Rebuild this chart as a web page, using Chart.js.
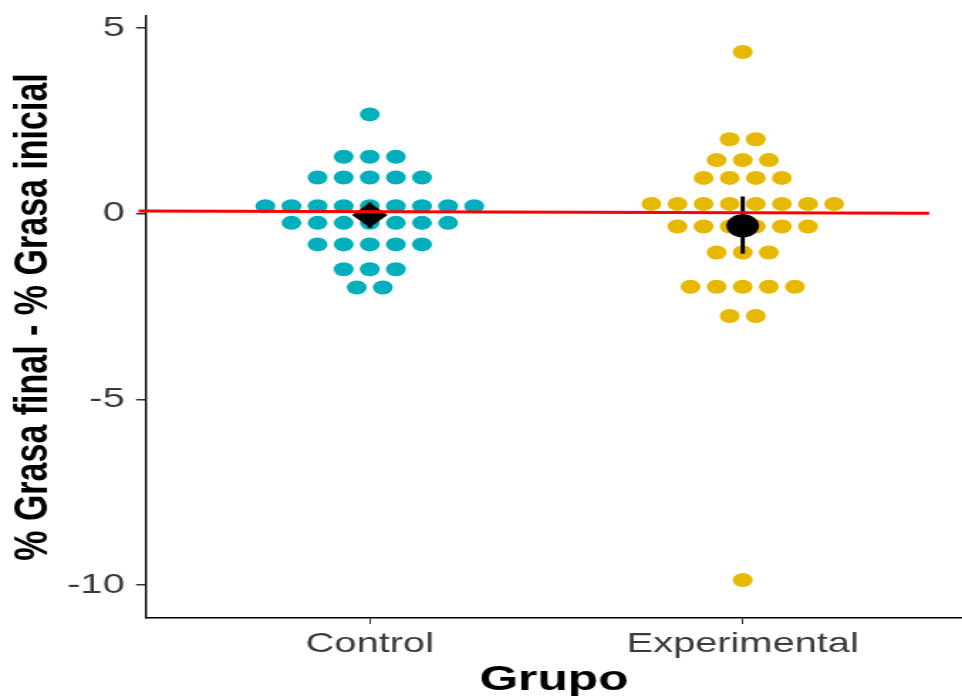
<!DOCTYPE html>
<html>
<head>
<meta charset="utf-8">
<title>Grasa final - Grasa inicial</title>
<script src="https://cdn.jsdelivr.net/npm/chart.js@4.4.1/dist/chart.umd.min.js"></script>
<style>
  html, body { margin: 0; padding: 0; background: #fff; overflow: hidden; }
  #plot { display: block; }
</style>
</head>
<body>
<!-- the reference is stretched sideways: draw on a narrow canvas and widen it with an inline style -->
<canvas id="plot" width="677" height="696" style="width:962px;height:696px"></canvas>
<script>
; (function () {
  'use strict'

  // ── Data ────────────────────────────────────────────────────────────────────
  const groups = ['Control', 'Experimental']
  const groupColors = ['#00AFBB', '#E7B800']

  const controlValues = [
    2.67,
    1.53, 1.53, 1.53,
    0.97, 0.97, 0.97, 0.97, 0.97,
    0.20, 0.20, 0.20, 0.20, 0.20, 0.20, 0.20, 0.20, 0.20,
    -0.25, -0.25, -0.25, -0.25, -0.25, -0.25, -0.25,
    -0.83, -0.83, -0.83, -0.83, -0.83,
    -1.50, -1.50, -1.50,
    -1.99, -1.99
  ]
  const experimentalValues = [
    4.35,
    2.00, 2.00,
    1.44, 1.44, 1.44,
    0.96, 0.96, 0.96, 0.96,
    0.26, 0.26, 0.26, 0.26, 0.26, 0.26, 0.26, 0.26,
    -0.35, -0.35, -0.35, -0.35, -0.35, -0.35,
    -1.05, -1.05, -1.05,
    -1.97, -1.97, -1.97, -1.97, -1.97,
    -2.76, -2.76,
    -9.87
  ]

  // mean marker and its error bar, per group
  const groupMeans = [-0.04, -0.33]
  const errorHigh = [0.30, 0.46]
  const errorLow = [-0.38, -1.08]

  // red reference line
  const refLineX = [0.38, 2.5]
  const refLineY = [0.07, 0.01]

  const yTicks = [-10, -5, 0, 5]

  // ── Helpers ─────────────────────────────────────────────────────────────────
  const FONT = "'Liberation Sans', Arial, sans-serif"
  const DOT_STEP = 0.07   // horizontal distance between stacked dots, in x units

  // stack equal values side by side, centred on the group position
  function stackDots(values, center) {
    const rows = new Map()
    values.forEach(v => {
      if (!rows.has(v)) rows.set(v, 0)
      rows.set(v, rows.get(v) + 1)
    })
    const pts = []
    rows.forEach((n, v) => {
      for (let i = 0; i < n; i++) {
        pts.push({ x: center + (i - (n - 1) / 2) * DOT_STEP, y: v })
      }
    })
    return pts
  }

  const allValues = [controlValues, experimentalValues]

  const dotSets = groups.map((g, i) => ({
    label: g,
    data: stackDots(allValues[i], i + 1),
    pointStyle: 'circle',
    pointRadius: 7,
    pointBackgroundColor: groupColors[i],
    pointBorderWidth: 0,
    order: 3
  }))

  const errorSets = groups.map((g, i) => ({
    label: g + ' error',
    data: [{ x: i + 1, y: errorHigh[i] }, { x: i + 1, y: errorLow[i] }],
    showLine: true,
    borderColor: '#000',
    borderWidth: 3,
    pointRadius: 0,
    order: 2
  }))

  const meanSet = {
    label: 'mean',
    data: groups.map((g, i) => ({ x: i + 1, y: groupMeans[i] })),
    pointStyle: ['rectRot', 'circle'],
    pointRadius: [12.5, 11.5],
    pointBackgroundColor: '#000',
    pointBorderWidth: 0,
    order: 1
  }

  const refSet = {
    label: 'ref',
    data: refLineX.map((x, i) => ({ x, y: refLineY[i] })),
    showLine: true,
    borderColor: '#FF0000',
    borderWidth: 3,
    pointRadius: 0,
    clip: false,
    order: 0
  }

  // ── Chart ───────────────────────────────────────────────────────────────────
  new Chart(document.getElementById('plot'), {
    type: 'scatter',
    data: { datasets: [refSet, meanSet, ...errorSets, ...dotSets] },
    options: {
      responsive: false,
      devicePixelRatio: 1,
      animation: false,
      events: [],
      layout: { autoPadding: false, padding: { top: 16, right: 0, bottom: 0, left: 0 } },
      plugins: { legend: { display: false }, tooltip: { enabled: false } },
      scales: {
        x: {
          type: 'linear',
          min: 0.4,
          max: 2.588,
          afterBuildTicks: s => { s.ticks = groups.map((g, i) => ({ value: i + 1 })) },
          afterFit: s => {
            s.height = 78
            s.paddingLeft = 0; s.paddingRight = 0
          },
          ticks: {
            autoSkip: false,
            maxRotation: 0,
            padding: 3,
            color: '#3a3a3a',
            font: { family: FONT, size: 28 },
            callback: (v, i) => groups[i]
          },
          grid: { drawOnChartArea: false, drawTicks: true, tickLength: 6, color: '#333', lineWidth: 1 },
          border: { display: true, color: '#000', width: 1.5 },
          title: {
            display: true,
            text: 'Grupo',
            color: '#000',
            font: { family: FONT, size: 35, weight: 'bold', lineHeight: 0.8 },
            padding: { top: 0, bottom: 1.6 }
          }
        },
        y: {
          type: 'linear',
          min: -10.89,
          max: 5.32,
          afterBuildTicks: s => { s.ticks = yTicks.map(v => ({ value: v })) },
          afterFit: s => {
            s.width = 102.75
            s.paddingTop = 0; s.paddingBottom = 0
          },
          ticks: {
            padding: 8,
            color: '#3a3a3a',
            font: { family: FONT, size: 28 }
          },
          grid: { drawOnChartArea: false, drawTicks: true, tickLength: 7, color: '#333', lineWidth: 1.5 },
          border: { display: true, color: '#000', width: 1.4 },
          title: {
            display: true,
            text: '% Grasa final - % Grasa inicial',
            color: '#000',
            font: { family: FONT, size: 34, weight: 'bold', lineHeight: 1.2 },
            padding: { top: 3, bottom: 0 }
          }
        }
      }
    }
  })

})()
</script>
</body>
</html>
